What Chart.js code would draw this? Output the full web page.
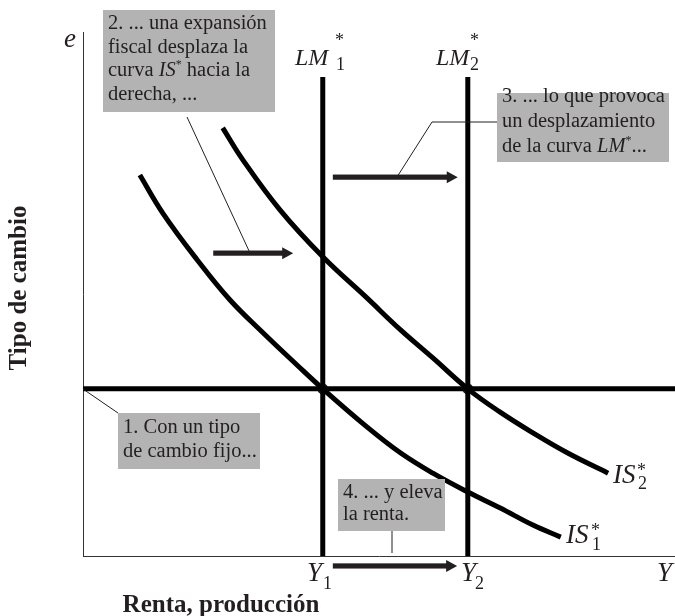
<!DOCTYPE html>
<html>
<head>
<meta charset="utf-8">
<script src="https://cdn.jsdelivr.net/npm/chart.js@4.4.0/dist/chart.umd.min.js"></script>
<style>
  html, body { margin: 0; padding: 0; background: #fff; overflow: hidden; }
  #wrap { width: 675px; height: 616px; position: relative; }
</style>
</head>
<body>
<div id="wrap"><canvas id="c"></canvas></div>
<script>
// curves (Y and e in 0-100 units)
const is1Y = [9.6, 13.5, 19.3, 24.8, 30.4, 36.1, 40.5, 48.0, 53.6, 59.1, 65.0, 70.4, 76.0, 80.7];
const is1E = [72.7, 65.4, 56.5, 48.9, 42.6, 36.5, 31.9, 24.6, 19.7, 15.8, 12.2, 9.2, 5.9, 3.6];
const is2Y = [23.6, 27.0, 33.3, 40.5, 48.0, 53.5, 59.1, 65.0, 70.4, 76.0, 81.8, 88.7];
const is2E = [81.7, 75.6, 66.0, 57.1, 49.2, 43.3, 37.8, 31.9, 27.5, 23.5, 19.7, 15.8];
const lmY = [40.5, 65.0];   // Y1, Y2
const lmTop = 91.4;
const eFixed = 31.9;
// shift arrows: level, start, end
const arrowE = [57.8, 72.3, -1.9];
const arrowFrom = [22.0, 42.2, 42.2];
const arrowTo = [35.5, 63.3, 63.2];

const ink = "#231f20";
const serif = '"Liberation Serif", "Times New Roman", serif';

const pts = (xs, ys) => xs.map((x, i) => ({ x: x, y: ys[i] }));

function richLine(ctx, x, y, parts, size) {
    let cx = x;
    parts.forEach(p => {
        if (typeof p === "string") p = { t: p };
        const s = p.sup ? Math.round(size * 0.6) : size;
        ctx.font = (p.it ? "italic " : "") + s + "px " + serif;
        ctx.fillText(p.t, cx, p.sup ? y - size * 0.4 : y);
        cx += ctx.measureText(p.t).width;
    });
}

function symbol(ctx, s) {
    ctx.font = "italic " + s.size + "px " + serif;
    ctx.fillText(s.main, s.x, s.y);
    if (s.star) {
        ctx.font = "18px " + serif;
        ctx.fillText("*", s.star[0], s.star[1]);
    }
    if (s.sub) {
        ctx.font = "18px " + serif;
        ctx.fillText(s.sub, s.subAt[0], s.subAt[1]);
    }
}

const boxes = [
    { x: 103, y: 10, w: 172, h: 102, lines: [
        ["2. ... una expansión"],
        ["fiscal desplaza la"],
        ["curva ", { t: "IS", it: true }, { t: "*", sup: true }, " hacia la"],
        ["derecha, ..."]], base: 29, lh: 23.7 },
    { x: 497, y: 93, w: 172, h: 69, lines: [
        ["3. ... lo que provoca"],
        ["un desplazamiento"],
        ["de la curva ", { t: "LM", it: true }, { t: "*", sup: true }, "..."]], base: 102, lh: 25 },
    { x: 118, y: 413, w: 142, h: 56, lines: [
        ["1. Con un tipo"],
        ["de cambio fijo..."]], base: 433, lh: 24 },
    { x: 338, y: 479, w: 107, h: 52, lines: [
        ["4. ... y eleva"],
        ["la renta."]], base: 498, lh: 22 }
];

const leaders = [
    [[187, 117], [250, 253]],
    [[397, 177], [432, 122], [497, 122]],
    [[83, 389], [118, 413]],
    [[392, 531], [392, 553]]
];

const symbols = [
    { main: "LM", x: 295, y: 65, size: 24, star: [335, 46], sub: "1", subAt: [336, 70] },
    { main: "LM", x: 436, y: 65, size: 24, star: [470, 46], sub: "2", subAt: [470, 70] },
    { main: "IS", x: 613, y: 483, size: 27, star: [637, 476], sub: "2", subAt: [638, 489] },
    { main: "IS", x: 566, y: 543, size: 27, star: [591, 536], sub: "1", subAt: [592, 550] },
    { main: "Y", x: 307, y: 581, size: 27, sub: "1", subAt: [323, 589] },
    { main: "Y", x: 461, y: 581, size: 27, sub: "2", subAt: [475, 589] },
    { main: "Y", x: 657, y: 581, size: 27 },
    { main: "e", x: 64, y: 47, size: 27 }
];

const overlay = {
    id: "overlay",
    afterDatasetsDraw(chart) {
        const ctx = chart.ctx;
        const xs = chart.scales.x, ys = chart.scales.y;
        ctx.save();
        ctx.fillStyle = ink;
        ctx.strokeStyle = ink;

        // arrows
        arrowE.forEach((e, i) => {
            const y = ys.getPixelForValue(e);
            const x0 = xs.getPixelForValue(arrowFrom[i]);
            const x1 = xs.getPixelForValue(arrowTo[i]);
            ctx.fillRect(x0, y - 2.6, x1 - x0 - 9, 5.2);
            ctx.beginPath();
            ctx.moveTo(x1 - 11, y - 6);
            ctx.lineTo(x1, y);
            ctx.lineTo(x1 - 11, y + 6);
            ctx.closePath();
            ctx.fill();
        });

        // leader lines
        ctx.lineWidth = 1;
        leaders.forEach(l => {
            ctx.beginPath();
            l.forEach((p, i) => i ? ctx.lineTo(p[0], p[1]) : ctx.moveTo(p[0], p[1]));
            ctx.stroke();
        });

        // note boxes
        ctx.textAlign = "left";
        ctx.textBaseline = "alphabetic";
        boxes.forEach(b => {
            ctx.fillStyle = "#b3b3b3";
            ctx.fillRect(b.x, b.y, b.w, b.h);
            ctx.fillStyle = ink;
            b.lines.forEach((ln, i) => richLine(ctx, b.x + 5, b.base + i * b.lh, ln, 20.5));
        });

        symbols.forEach(s => symbol(ctx, s));

        // axis titles
        ctx.font = "bold 25px " + serif;
        ctx.textAlign = "center";
        ctx.fillText("Renta, producción", 221, 612);
        ctx.save();
        ctx.translate(26, 288);
        ctx.rotate(-Math.PI / 2);
        ctx.fillText("Tipo de cambio", 0, 0);
        ctx.restore();
        ctx.restore();
    }
};

const lineStyle = {
    showLine: true,
    pointRadius: 0,
    borderColor: "#000",
    borderWidth: 5
};

new Chart(document.getElementById("c").getContext("2d"), {
    type: "scatter",
    data: {
        datasets: [
            { ...lineStyle, data: pts(is1Y, is1E), tension: 0.4 },
            { ...lineStyle, data: pts(is2Y, is2E), tension: 0.4 },
            { ...lineStyle, data: [{ x: lmY[0], y: 0 }, { x: lmY[0], y: lmTop }] },
            { ...lineStyle, data: [{ x: lmY[1], y: 0 }, { x: lmY[1], y: lmTop }] },
            { ...lineStyle, data: [{ x: 0, y: eFixed }, { x: 100, y: eFixed }] },
            {
                data: lmY.map(x => ({ x: x, y: eFixed })),
                pointRadius: 5.5,
                pointBackgroundColor: ink,
                pointBorderWidth: 0
            }
        ]
    },
    options: {
        responsive: true,
        maintainAspectRatio: false,
        animation: false,
        layout: { autoPadding: false, padding: { left: 83, top: 32, right: 0, bottom: 60 } },
        plugins: {
            legend: { display: false },
            tooltip: { enabled: false }
        },
        scales: {
            x: {
                type: "linear",
                min: 0,
                max: 100,
                grid: { display: false, drawTicks: false },
                ticks: { display: false },
                border: { display: true, color: "#333", width: 1 }
            },
            y: {
                type: "linear",
                min: 0,
                max: 100,
                grid: { display: false, drawTicks: false },
                ticks: { display: false },
                border: { display: true, color: "#333", width: 1 }
            }
        }
    },
    plugins: [overlay]
});
</script>
</body>
</html>
